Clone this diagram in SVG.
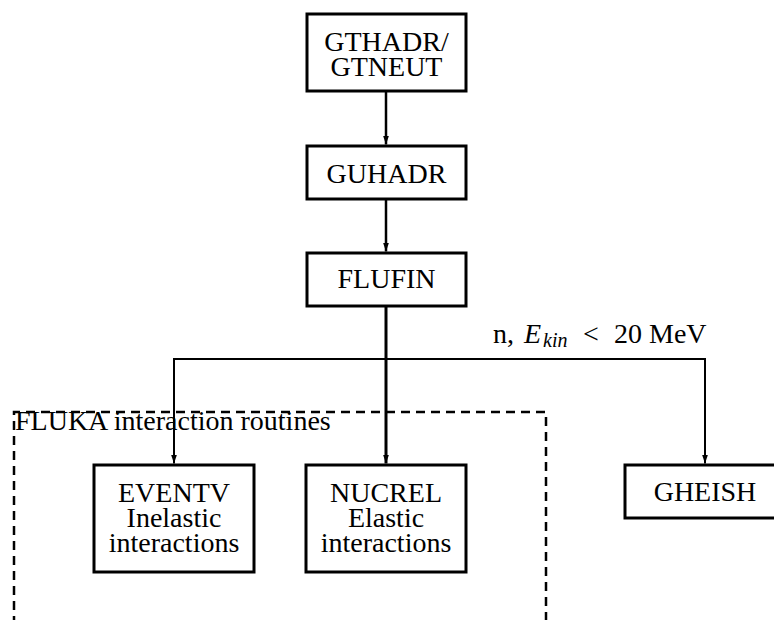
<svg xmlns="http://www.w3.org/2000/svg" width="774" height="620" viewBox="0 0 774 620">
<style>
.box{fill:#fff;stroke:#000;stroke-width:3}
.t{font-family:"Liberation Serif","Times New Roman",serif;font-size:28px;fill:#000;text-anchor:middle}
.l{font-family:"Liberation Serif","Times New Roman",serif;font-size:28px;fill:#000}
.sub{font-family:"Liberation Serif","Times New Roman",serif;font-size:20px;font-style:italic;fill:#000}
.c{fill:none;stroke:#000;stroke-width:2}
.dash{fill:none;stroke:#000;stroke-width:2.5;stroke-dasharray:9 6}
</style>
<defs>
<marker id="ah" viewBox="0 0 9 6" markerWidth="9" markerHeight="6" markerUnits="userSpaceOnUse" refX="9" refY="3" orient="auto">
<path d="M0,0 L9,3 L0,6 z" fill="#000"/>
</marker>
</defs>
<rect width="774" height="620" fill="#fff"/>
<g id="fluka-group">
<path class="dash" d="M14,640 L14,412 L546,412 L546,640"/>
<text class="l" x="15" y="430">FLUKA interaction routines</text>
</g>
<g id="connectors">
<line class="c" style="stroke-width:2.5" x1="386" y1="92" x2="386" y2="144.5" marker-end="url(#ah)"/>
<line class="c" style="stroke-width:2.5" x1="386" y1="200" x2="386" y2="251.5" marker-end="url(#ah)"/>
<line class="c" style="stroke-width:3" x1="386" y1="307" x2="386" y2="463.5" marker-end="url(#ah)"/>
<line class="c" x1="174" y1="359" x2="705" y2="359"/>
<line class="c" x1="174" y1="358" x2="174" y2="463.5" marker-end="url(#ah)"/>
<line class="c" x1="705" y1="358" x2="705" y2="463.5" marker-end="url(#ah)"/>
<text class="l" x="493" y="343">n,</text>
<text class="l" x="524" y="343" style="font-style:italic">E</text>
<text class="sub" x="543" y="347">kin</text>
<text class="l" x="583" y="343">&lt;</text>
<text class="l" x="614" y="343">20 MeV</text>
</g>
<g id="gthadr">
<rect class="box" x="307" y="14" width="159" height="77"/>
<text class="t" x="386.5" y="51">GTHADR/</text>
<text class="t" x="386.5" y="76">GTNEUT</text>
</g>
<g id="guhadr">
<rect class="box" x="307" y="146" width="159" height="53"/>
<text class="t" x="386.5" y="183">GUHADR</text>
</g>
<g id="flufin">
<rect class="box" x="307" y="253" width="159" height="53"/>
<text class="t" x="386.5" y="288">FLUFIN</text>
</g>
<g id="eventv">
<rect class="box" x="94" y="465" width="160" height="107"/>
<text class="t" x="174" y="502">EVENTV</text>
<text class="t" x="174" y="527">Inelastic</text>
<text class="t" x="174" y="552">interactions</text>
</g>
<g id="nucrel">
<rect class="box" x="306" y="465" width="160" height="107"/>
<text class="t" x="386" y="502">NUCREL</text>
<text class="t" x="386" y="527">Elastic</text>
<text class="t" x="386" y="552">interactions</text>
</g>
<g id="gheish">
<rect class="box" x="625" y="465" width="160" height="53"/>
<text class="t" x="705" y="501">GHEISH</text>
</g>
</svg>
